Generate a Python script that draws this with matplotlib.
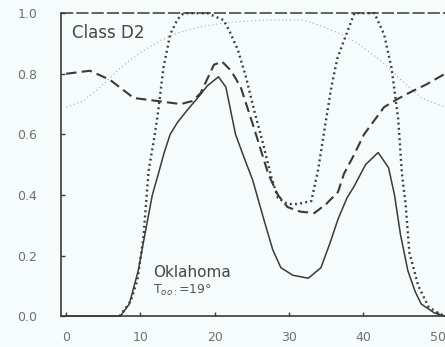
import numpy as np
import matplotlib.pyplot as plt

# solid: observed curve
solid_x = [0, 7.3, 8.5, 9.7, 10.6, 11.6, 12.3, 13.2, 14, 15, 16.3, 17.7, 19, 20.5, 21.5,
           22.8, 24, 25.1, 26.6, 27.8, 28.9, 30.5, 32.6, 34.3, 35.5, 36.6, 37.8, 38.8,
           40.3, 42, 43.4, 44.2, 45, 46, 47, 47.8, 49.6, 51]
solid_y = [0, 0, 0.04, 0.15, 0.27, 0.40, 0.46, 0.54, 0.60, 0.64, 0.68, 0.72, 0.76, 0.79,
           0.756, 0.60, 0.52, 0.45, 0.32, 0.22, 0.16, 0.135, 0.125, 0.16, 0.24, 0.32, 0.39,
           0.43, 0.50, 0.54, 0.49, 0.40, 0.27, 0.15, 0.08, 0.04, 0.01, 0]

# dashed
dash_x = [0, 3.2, 5.9, 9.1, 12.3, 15.4, 17, 18.1, 19.9, 21, 22.2, 23.5, 25.3, 27.2, 28.5,
          29.8, 31.5, 33.4, 35, 36.6, 37.4, 38.7, 40.1, 42.8, 44.5, 46, 48.5, 51]
dash_y = [0.80, 0.81, 0.78, 0.72, 0.71, 0.70, 0.71, 0.736, 0.83, 0.84, 0.81, 0.756, 0.62,
          0.47, 0.40, 0.36, 0.345, 0.34, 0.37, 0.41, 0.47, 0.53, 0.60, 0.69, 0.715, 0.735,
          0.765, 0.80]

# heavy dotted
dot_x = [7.2, 8.7, 9.6, 10.4, 11.1, 11.8, 12.3, 13.1, 14, 15, 15.8, 17, 19, 21.2, 22, 23.1,
         24.2, 25.3, 26.5, 27.6, 28.5, 29.8, 31.2, 33, 33.9, 34.8, 35.7, 36.5, 37.4, 38.8,
         40, 41.5, 42.8, 43.8, 44.7, 45.2, 45.7, 46.2, 47.4, 48.8, 50.1, 51]
dot_y = [0, 0.05, 0.12, 0.26, 0.48, 0.58, 0.66, 0.82, 0.93, 0.98, 1.0, 1.0, 1.0, 0.977, 0.94,
         0.88, 0.79, 0.68, 0.57, 0.46, 0.39, 0.37, 0.37, 0.38, 0.48, 0.62, 0.756, 0.85, 0.91,
         1.0, 1.0, 1.0, 0.93, 0.82, 0.65, 0.47, 0.37, 0.21, 0.10, 0.03, 0.01, 0]

# light dotted
light_x = [0, 2.3, 4.6, 7.3, 10, 12.7, 15, 18, 22, 26.6, 32, 34.7, 37, 39.3, 42.5, 45.1,
           47.8, 51]
light_y = [0.69, 0.71, 0.756, 0.82, 0.87, 0.91, 0.935, 0.955, 0.97, 0.977, 0.977, 0.955,
           0.93, 0.90, 0.84, 0.78, 0.72, 0.69]

xticks = [0, 10, 20, 30, 40, 50]
yticks = [0.0, 0.2, 0.4, 0.6, 0.8, 1.0]

bg = '#f6fbfb'
ink = '#3a3a3a'

fig = plt.figure(figsize=(4.45, 3.47), dpi=100, facecolor=bg)
ax = fig.add_axes([0.137, 0.089, 0.863, 0.873], facecolor=bg)

ax.plot(light_x, light_y, color='#aaaaaa', lw=0.8, ls=(0, (1, 2.5)), clip_on=False)
ax.plot(dash_x, dash_y, color=ink, lw=1.5, ls=(0, (5, 2.5)), clip_on=False)
ax.plot(dot_x, dot_y, color=ink, lw=1.7, ls=(0, (0.8, 1.4)), clip_on=False)
ax.plot(solid_x, solid_y, color=ink, lw=1.1, clip_on=False)

ax.set_xlim(-0.7, 51.0)
ax.set_ylim(0, 1.0)

# frame: solid left/bottom, dashed top
for s in ['top', 'right']:
    ax.spines[s].set_visible(False)
for s in ['left', 'bottom']:
    ax.spines[s].set_color(ink)
    ax.spines[s].set_linewidth(1.2)
ax.axhline(1.0, color=ink, lw=1.1, ls=(0, (8, 2)), clip_on=False)

ax.set_xticks(xticks)
ax.set_yticks(yticks)
ax.set_xticklabels([str(t) for t in xticks])
ax.set_yticklabels([f"{t:.1f}" for t in yticks])
ax.tick_params(direction='in', length=3, width=1, color=ink, labelcolor='#707070',
               labelsize=9)
ax.tick_params(axis='y', pad=17)
ax.tick_params(axis='x', pad=11)

ax.text(0.8, 0.935, "Class D2", fontsize=12, color='#454545', ha='left', va='center')
ax.text(11.7, 0.145, "Oklahoma", fontsize=11, color='#454545', ha='left', va='center')
ax.text(11.7, 0.085, r"T$_{oo:}$=19°", fontsize=9, color='#555555', ha='left',
        va='center')

plt.savefig("out.png", dpi=100, facecolor=bg)
